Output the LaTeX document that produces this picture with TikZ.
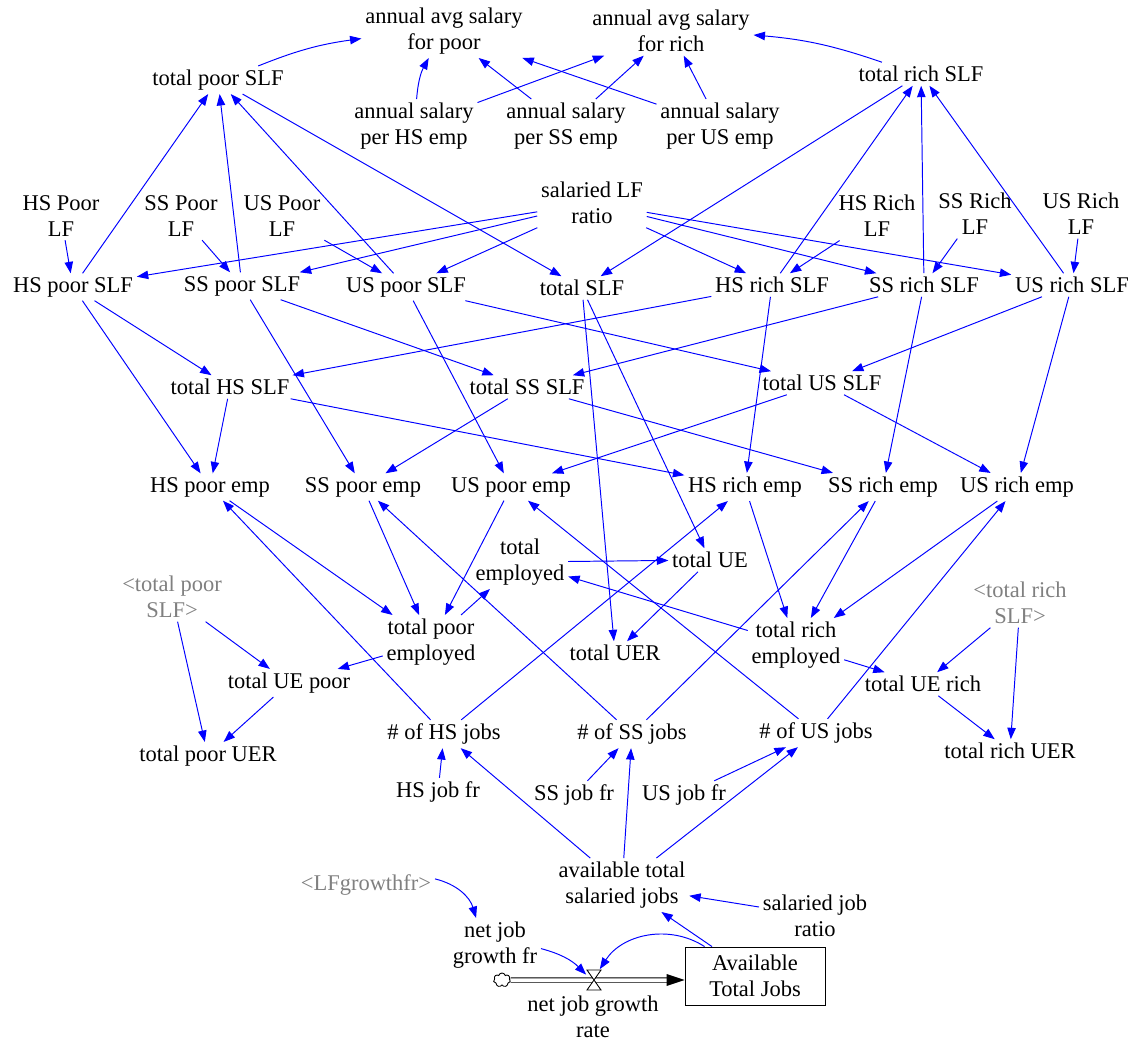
\documentclass[tikz,border=0pt]{standalone}
\usepackage{fontspec}
\setmainfont{Liberation Serif}
\usetikzlibrary{arrows.meta,shapes.symbols,calc}
\definecolor{vblue}{RGB}{0,0,255}
\definecolor{vgray}{RGB}{128,128,128}
\newcommand\vfs{\fontsize{12.8}{14.7}\selectfont}
\begin{document}
\begin{tikzpicture}[x=0.02cm,y=-0.02cm,
  v/.style={align=center, inner sep=2pt, font=\vfs},
  gv/.style={v, text=vgray},
  lk/.style={draw=vblue, line width=0.55pt, -{Triangle[length=6.5pt,width=4.8pt]}},
]
\useasboundingbox (0,0) rectangle (1133,1041);
% top
\node[v] (aafp) at (444,31) {annual avg salary\\for poor};
\node[v] (aafr) at (671,31) {annual avg salary\\for rich};
\node[v] (tpslf) at (218,80) {total poor SLF};
\node[v] (trslf) at (921,74) {total rich SLF};
\node[v] (ashs) at (414,126) {annual salary\\per HS emp};
\node[v] (asss) at (566,126) {annual salary\\per SS emp};
\node[v] (asus) at (720,126) {annual salary\\per US emp};
\node[v] (slfr) at (592,203) {salaried LF\\ratio};
\node[v] (hsplf) at (61,216) {HS Poor\\LF};
\node[v] (ssplf) at (181,216) {SS Poor\\LF};
\node[v] (usplf) at (282,216) {US Poor\\LF};
\node[v] (hsrlf) at (877,216) {HS Rich\\LF};
\node[v] (ssrlf) at (975,214) {SS Rich\\LF};
\node[v] (usrlf) at (1081,214) {US Rich\\LF};
% SLF row
\node[v] (hspslf) at (73,287) {HS poor SLF};
\node[v] (sspslf) at (242,286) {SS poor SLF};
\node[v] (uspslf) at (406,287) {US poor SLF};
\node[v] (tslf) at (582,288) {total SLF};
\node[v] (hsrslf) at (772,285) {HS rich SLF};
\node[v] (ssrslf) at (924,285) {SS rich SLF};
\node[v] (usrslf) at (1072,285) {US rich SLF};
% totals
\node[v] (thsslf) at (230,387) {total HS SLF};
\node[v] (tssslf) at (527,387) {total SS SLF};
\node[v] (tusslf) at (822,383) {total US SLF};
% emp row
\node[v] (hspemp) at (210,487) {HS poor emp};
\node[v] (sspemp) at (363,487) {SS poor emp};
\node[v] (uspemp) at (511,487) {US poor emp};
\node[v] (hsremp) at (745,487) {HS rich emp};
\node[v] (ssremp) at (883,487) {SS rich emp};
\node[v] (usremp) at (1017,487) {US rich emp};
% lower
\node[v] (temp) at (520,562) {total\\employed};
\node[v] (tue) at (710,560) {total UE};
\node[gv] (tpslfg) at (172,597) {<total poor\\SLF>};
\node[v] (tpemp) at (431,642) {total poor\\employed};
\node[v] (tuer) at (615,653) {total UER};
\node[v] (tremp) at (796,645) {total rich\\employed};
\node[gv] (trslfg) at (1020,603) {<total rich\\SLF>};
\node[v] (tuepoor) at (289,683) {total UE poor};
\node[v] (tuerich) at (923,684) {total UE rich};
\node[v] (tpuer) at (208,756) {total poor UER};
\node[v] (nhs) at (444,734) {\# of HS jobs};
\node[v] (nss) at (632,734) {\# of SS jobs};
\node[v] (nus) at (816,733) {\# of US jobs};
\node[v] (truer) at (1010,751) {total rich UER};
\node[v] (hsjf) at (438,792) {HS job fr};
\node[v] (ssjf) at (574,795) {SS job fr};
\node[v] (usjf) at (684,795) {US job fr};
\node[v] (atsj) at (622,885) {available total\\salaried jobs};
\node[gv] (lfg) at (366,885) {<LFgrowthfr>};
\node[v] (sjr) at (815,916) {salaried job\\ratio};
\node[v] (njgf) at (495,945) {net job\\growth fr};
\node[v, draw, line width=0.5pt, minimum width=2.8cm, minimum height=1.16cm] (stock) at (755,976) {Available\\Total Jobs};
\node[v] (njgr) at (593,1017) {net job growth\\rate};
% flow
\node[inner sep=0, minimum width=0.3cm, minimum height=0.42cm] (valve) at (594,980) {};
\node[cloud, draw, cloud puffs=7, aspect=1.2, inner sep=0, minimum width=0.34cm, minimum height=0.28cm, line width=0.5pt] (cloud) at (502,980) {};
\coordinate (pipetip) at (stock.west |- valve.center);
\draw[line width=0.5pt, double distance=2pt] (cloud.east) -- ($(pipetip)+(-17,0)$);
\fill (pipetip) -- ++(-18,-6) -- ++(0,12) -- cycle;
\draw[fill=white, line width=0.5pt] (587,970) -- (601,970) -- (587,990) -- (601,990) -- cycle;
% links top
\draw[lk] (tpslf) to[bend left=7] (aafp);
\draw[lk] (trslf) to[bend right=7] (aafr);
\draw[lk] (ashs) to[bend left=12] (aafp);
\draw[lk] (ashs) -- (aafr);
\draw[lk] (asss) -- (aafp);
\draw[lk] (asss) -- (aafr);
\draw[lk] (asus) -- (aafp);
\draw[lk] (asus) -- (aafr);
% poor SLF
\draw[lk] (hsplf) -- (hspslf);
\draw[lk] (ssplf) -- (sspslf);
\draw[lk] (usplf) -- (uspslf);
\draw[lk] (hspslf) -- (tpslf);
\draw[lk] (sspslf) -- (tpslf);
\draw[lk] (uspslf) -- (tpslf);
\draw[lk] (tpslf) -- (tslf);
\draw[lk] (slfr) -- (hspslf);
\draw[lk] (slfr) -- (sspslf);
\draw[lk] (slfr) -- (uspslf);
% rich SLF
\draw[lk] (trslf) -- (tslf);
\draw[lk] (slfr) -- (hsrslf);
\draw[lk] (slfr) -- (ssrslf);
\draw[lk] (slfr) -- (usrslf);
\draw[lk] (hsrlf) -- (hsrslf);
\draw[lk] (ssrlf) -- (ssrslf);
\draw[lk] (usrlf) -- (usrslf);
\draw[lk] (hsrslf) -- (trslf);
\draw[lk] (ssrslf) -- (trslf);
\draw[lk] (usrslf) -- (trslf);
% middle
\draw[lk] (hspslf) -- (thsslf);
\draw[lk] (hspslf) -- (hspemp);
\draw[lk] (thsslf) -- (hspemp);
\draw[lk] (sspslf) -- (sspemp);
\draw[lk] (sspslf) -- (tssslf);
\draw[lk] (hsrslf) -- (thsslf);
\draw[lk] (thsslf) -- (hsremp);
\draw[lk] (uspslf) -- (uspemp);
\draw[lk] (uspslf) -- (tusslf);
\draw[lk] (ssrslf) -- (tssslf);
\draw[lk] (tssslf) -- (sspemp);
\draw[lk] (tssslf) -- (ssremp);
\draw[lk] (tslf) -- (tuer);
\draw[lk] (tslf) -- (tue);
\draw[lk] (hsrslf) -- (hsremp);
\draw[lk] (ssrslf) -- (ssremp);
\draw[lk] (usrslf) -- (usremp);
\draw[lk] (usrslf) -- (tusslf);
\draw[lk] (tusslf) -- (uspemp);
\draw[lk] (tusslf) -- (usremp);
% lower
\draw[lk] (hspemp) -- (tpemp);
\draw[lk] (nhs) -- (hspemp);
\draw[lk] (sspemp) -- (tpemp);
\draw[lk] (nss) -- (sspemp);
\draw[lk] (uspemp) -- (tpemp);
\draw[lk] (nus) -- (uspemp);
\draw[lk] (tpemp) -- (temp);
\draw[lk] (tpemp) -- (tuepoor);
\draw[lk] (tpslfg) -- (tuepoor);
\draw[lk] (tpslfg) -- (tpuer);
\draw[lk] (tuepoor) -- (tpuer);
\draw[lk] (nhs) -- (hsremp);
\draw[lk] (temp) -- (tue);
\draw[lk] (tue) -- (tuer);
\draw[lk] (tremp) -- (temp);
\draw[lk] (hsremp) -- (tremp);
\draw[lk] (ssremp) -- (tremp);
\draw[lk] (usremp) -- (tremp);
\draw[lk] (nss) -- (ssremp);
\draw[lk] (nus) -- (usremp);
\draw[lk] (tremp) -- (tuerich);
\draw[lk] (trslfg) -- (tuerich);
\draw[lk] (trslfg) -- (truer);
\draw[lk] (tuerich) -- (truer);
% bottom
\draw[lk] (hsjf) -- (nhs);
\draw[lk] (atsj) -- (nhs);
\draw[lk] (atsj) -- (nss);
\draw[lk] (atsj) -- (nus);
\draw[lk] (ssjf) -- (nss);
\draw[lk] (usjf) -- (nus);
\draw[lk] (sjr) -- (atsj);
\draw[lk] (stock) -- (atsj);
\draw[lk] (stock.north west) ++(20,0) coordinate (sk) (sk) to[bend right=45] (valve);
\draw[lk] (njgf) to[bend left=15] (valve);
\draw[lk] (lfg) to[bend left=30] (njgf);
\end{tikzpicture}
\end{document}
